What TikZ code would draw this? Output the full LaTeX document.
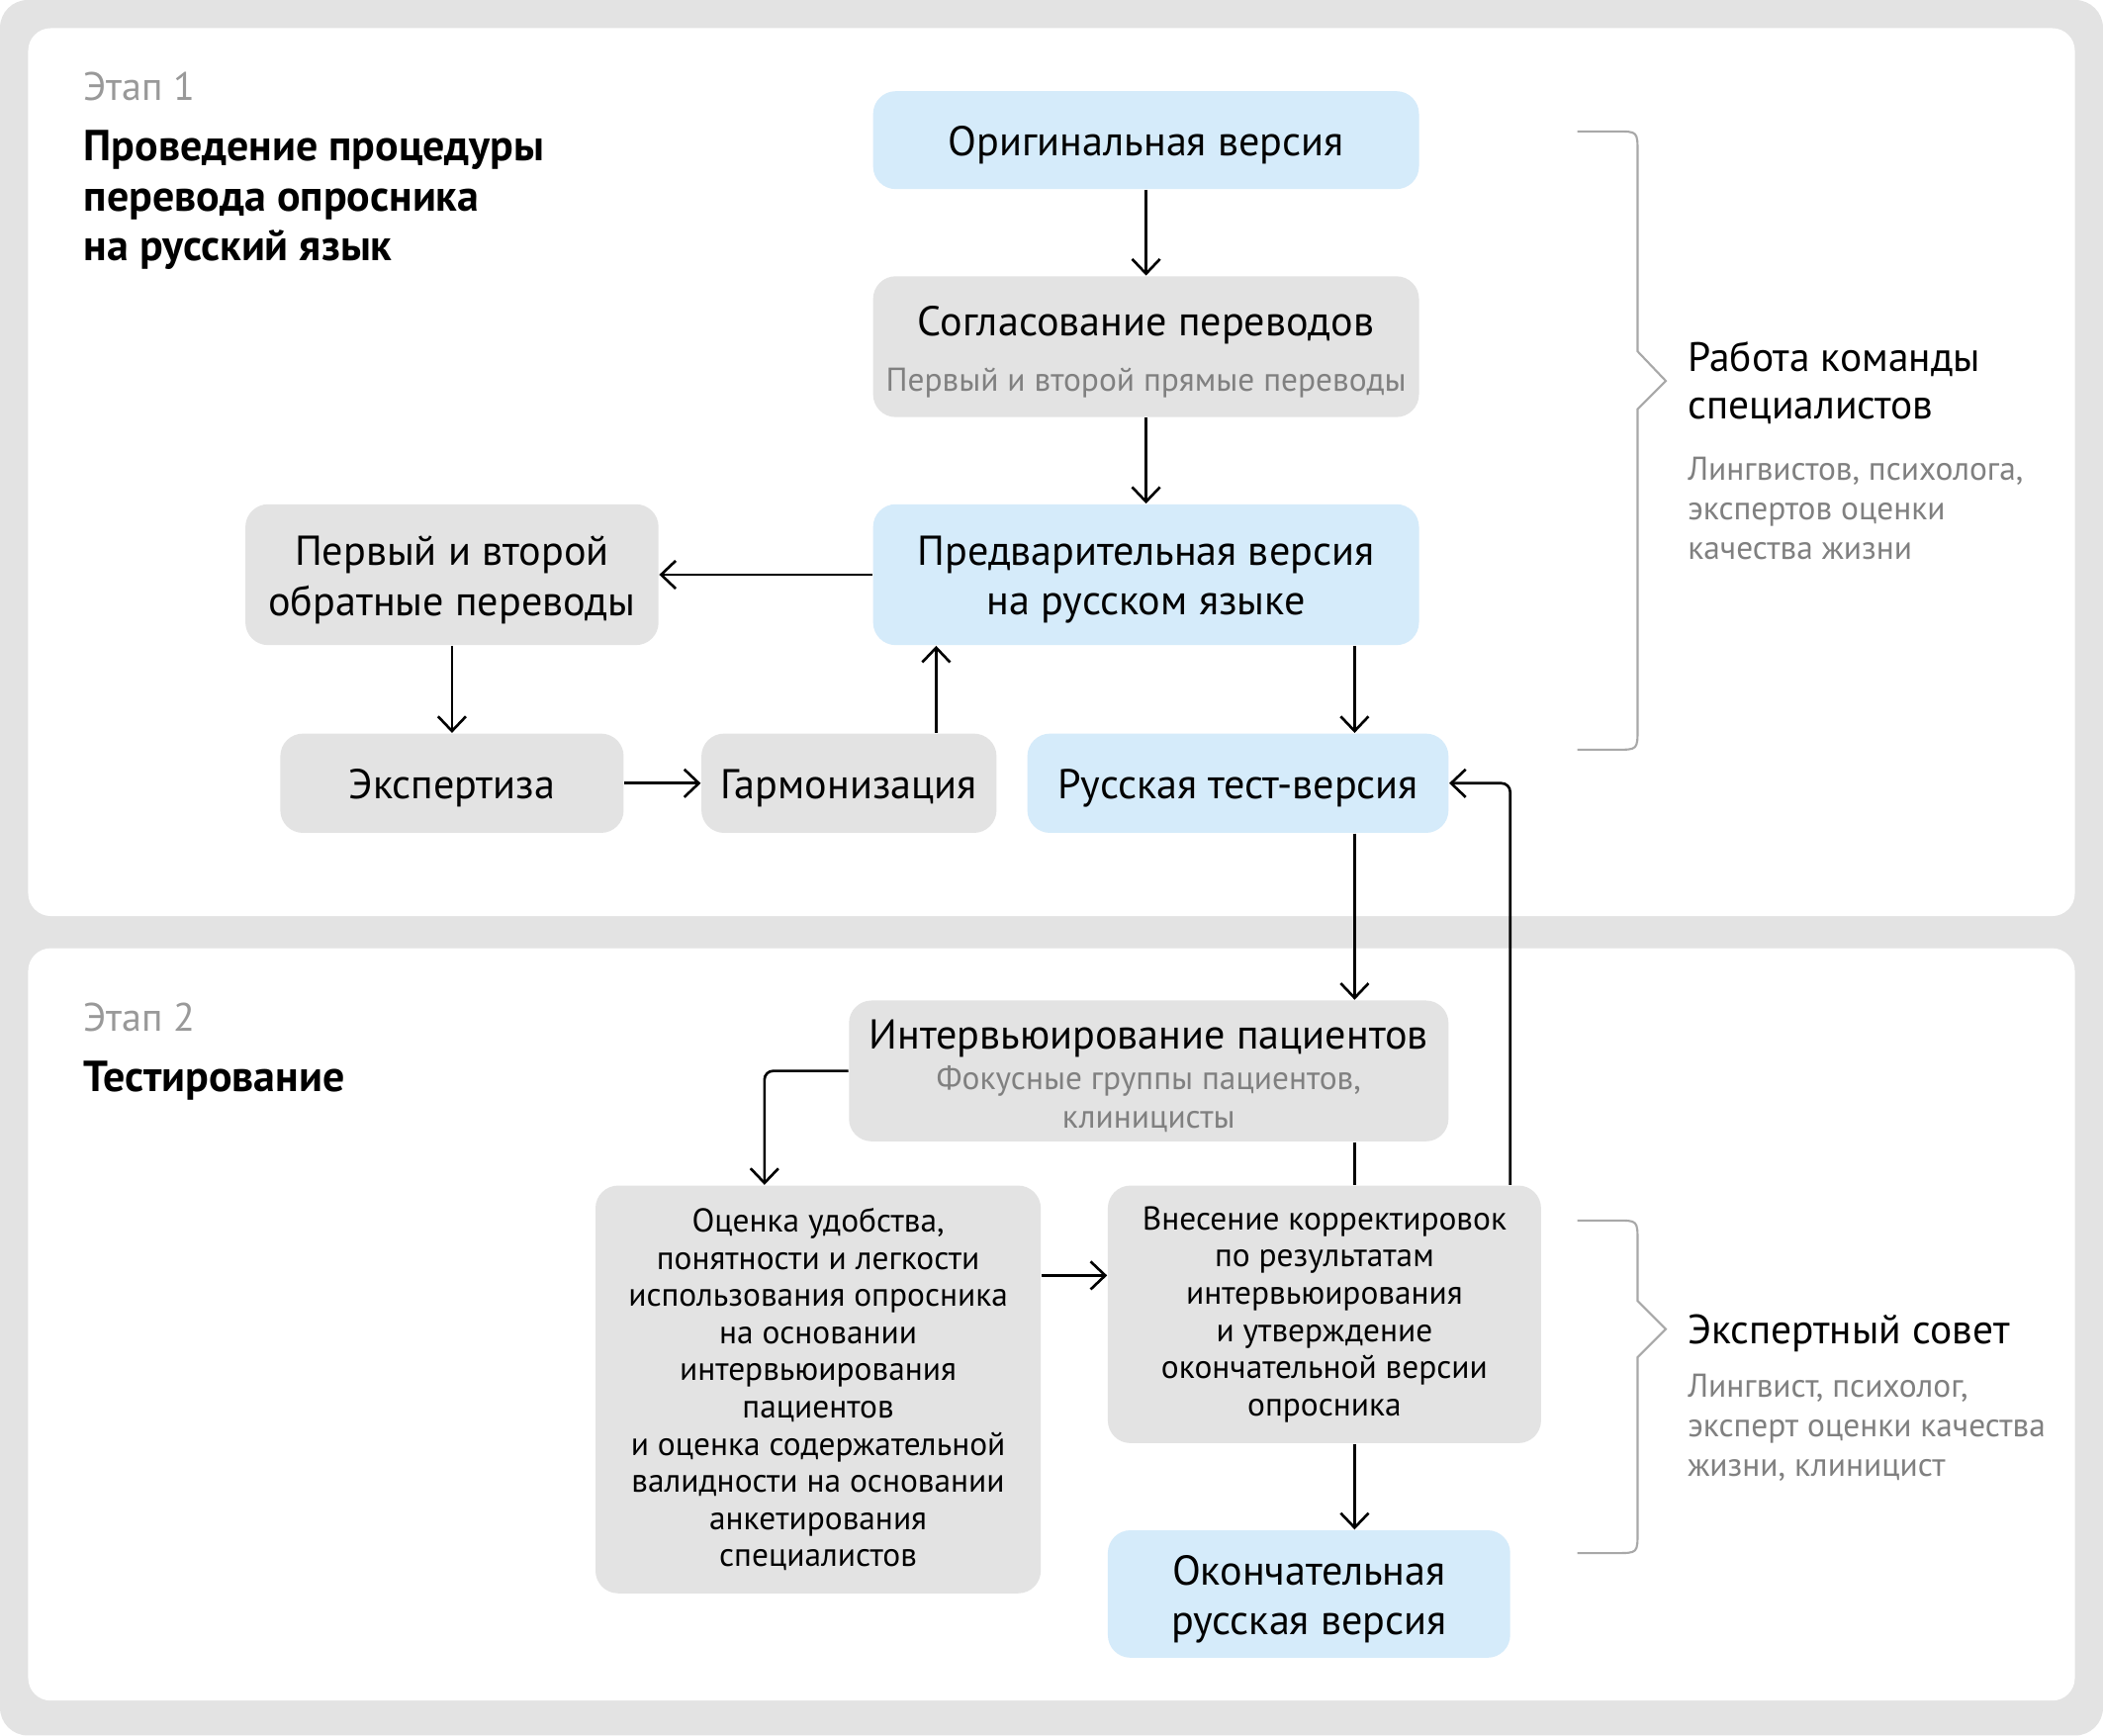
\documentclass[tikz,border=0pt]{standalone}
\usepackage{fontspec}
\setmainfont{PT Sans}
\usetikzlibrary{positioning,arrows.meta}
\definecolor{boxblue}{HTML}{D5EBFA}
\definecolor{boxgray}{HTML}{E3E3E3}
\definecolor{textgray}{HTML}{808080}
\definecolor{stagegray}{HTML}{999999}
\definecolor{bracegray}{HTML}{A8A8A8}
\newcommand{\dpx}{0.13559mm}
\newcommand{\tstrut}{\rule{0pt}{11.5pt}}
\newcommand{\subtext}[1]{{\fontsize{9.5}{11.2}\selectfont\color{textgray}#1}}
\tikzset
{
	boxsize/.style 2 args = {minimum width=#1*\dpx, minimum height=#2*\dpx},
	boxnode/.style   = {rectangle, rounded corners=6.5pt, inner sep=0pt, align=center},
	bigtext/.style   = {font=\fontsize{12}{14.3}\selectfont},
	bluenode/.style  = {boxnode, bigtext, fill=boxblue},
	graynode/.style  = {boxnode, bigtext, fill=boxgray},
	smallnode/.style = {boxnode, fill=boxgray, font=\fontsize{9.5}{10.7}\selectfont},
	flow/.style      = {draw=black, line width=0.75pt, -{Straight Barb[length=4.2pt, width=8pt]}},
	link/.style      = {draw=black, line width=0.75pt},
	brace/.style     = {draw=bracegray, line width=0.6pt},
	stagelabel/.style = {anchor=base west, inner sep=0pt, text=stagegray, font=\fontsize{11.4}{14}\selectfont},
	stagetitle/.style = {anchor=north west, inner sep=0pt, align=left, font=\bfseries\fontsize{12.5}{14.3}\selectfont},
	teamhead/.style  = {anchor=north west, inner sep=0pt, align=left, font=\fontsize{11.8}{13.9}\selectfont},
	teamnote/.style  = {anchor=north west, inner sep=0pt, align=left, text=textgray, font=\fontsize{9.5}{11.4}\selectfont}
}

\begin{document}
\begin{tikzpicture}[x=\dpx, y=-\dpx]
\useasboundingbox (0,0) rectangle (1568,1294);
\fill[boxgray, rounded corners=8pt] (0,0) rectangle (1568,1294);
\fill[white, rounded corners=6.5pt] (21,21) rectangle (1547,683);
\fill[white, rounded corners=6.5pt] (21,707) rectangle (1547,1268);

\node[stagelabel] (stage1) at (62,75) {Этап 1};
\node[stagetitle] (title1) at (62,97) {Проведение процедуры\\перевода опросника\\на русский язык};
\node[stagelabel] (stage2) at (62,769) {Этап 2};
\node[stagetitle] (title2) at (62,791) {Тестирование};

\coordinate (harmlane) at (698,0);
\coordinate (mainlane) at (1010,0);
\coordinate (assesslane) at (570,0);
\coordinate (returnlane) at (1126,0);
\coordinate (sidelane) at (0,951);

\node[bluenode, boxsize={407}{73}] (orig) at (854.5,104.5) {\tstrut Оригинальная версия};
\node[graynode, boxsize={407}{105}] (agree) at (854.5,258.5) {\tstrut Согласование переводов\\[1.5pt]\subtext{Первый и второй прямые переводы}};
\node[bluenode, boxsize={407}{105}] (prelim) at (854.5,428.5) {\tstrut Предварительная версия\\на русском языке};
\node[graynode, boxsize={308}{105}] (back) at (337,428.5) {\tstrut Первый и второй\\обратные переводы};
\node[graynode, boxsize={256}{74}] (expert) at (337,584) {\tstrut Экспертиза};
\node[graynode, boxsize={220}{74}] (harmon) at (633,584) {\tstrut Гармонизация};
\node[bluenode, boxsize={314}{74}] (testver) at (923,584) {\tstrut Русская тест-версия};

\node[graynode, boxsize={447}{105}] (interview) at (856.5,798.5) {\tstrut Интервьюирование пациентов\\[-2.8pt]\subtext{Фокусные группы пациентов,}\\[-3pt]\subtext{клиницисты}};
\node[smallnode, boxsize={332}{304}] (assess) at (610,1036) {Оценка удобства,\\понятности и легкости\\использования опросника\\на основании\\интервьюирования\\пациентов\\и оценка содержательной\\валидности на основании\\анкетирования\\специалистов};
\node[smallnode, boxsize={323}{192}] (revise) at (987.5,980) {Внесение корректировок\\по результатам\\интервьюирования\\и утверждение\\окончательной версии\\опросника};
\node[bluenode, boxsize={300}{95}] (final) at (976,1188.5) {\tstrut Окончательная\\русская версия};

\draw[flow] (orig) -- (agree);
\draw[flow] (agree) -- (prelim);
\draw[flow] (prelim) -- (back);
\draw[flow] (back) -- (expert);
\draw[flow] (expert) -- (harmon);
\draw[flow] (harmon.north -| harmlane) -- (prelim.south -| harmlane);
\draw[flow] (prelim.south -| mainlane) -- (testver.north -| mainlane);
\draw[flow] (testver.south -| mainlane) -- (interview.north -| mainlane);
\draw[link] (interview.south -| mainlane) -- (revise.north -| mainlane);
\draw[flow, rounded corners=2.5pt] (interview.west) -| (assess.north -| assesslane);
\draw[flow] (assess.east |- sidelane) -- (revise.west |- sidelane);
\draw[flow, rounded corners=2.5pt] (revise.north -| returnlane) |- (testver.east);
\draw[flow] (revise.south -| mainlane) -- (final.north -| mainlane);

\draw[brace] (1176,98) -- (1205,98) .. controls (1221,98) .. (1221,114) -- (1221,262) -- (1242,284) -- (1221,305) -- (1221,543) .. controls (1221,559) .. (1205,559) -- (1176,559);
\draw[brace] (1176,910) -- (1205,910) .. controls (1221,910) .. (1221,926) -- (1221,970) -- (1242,991) -- (1221,1012) -- (1221,1142) .. controls (1221,1158) .. (1205,1158) -- (1176,1158);

\node[teamhead] (teamhead) at (1258,254) {Работа команды\\специалистов};
\node[teamnote] (teamnote) at (1258,340) {Лингвистов, психолога,\\экспертов оценки\\качества жизни};
\node[teamhead] (councilhead) at (1258,980) {Экспертный совет};
\node[teamnote] (councilnote) at (1258,1024) {Лингвист, психолог,\\эксперт оценки качества\\жизни, клиницист};
\end{tikzpicture}
\end{document}
